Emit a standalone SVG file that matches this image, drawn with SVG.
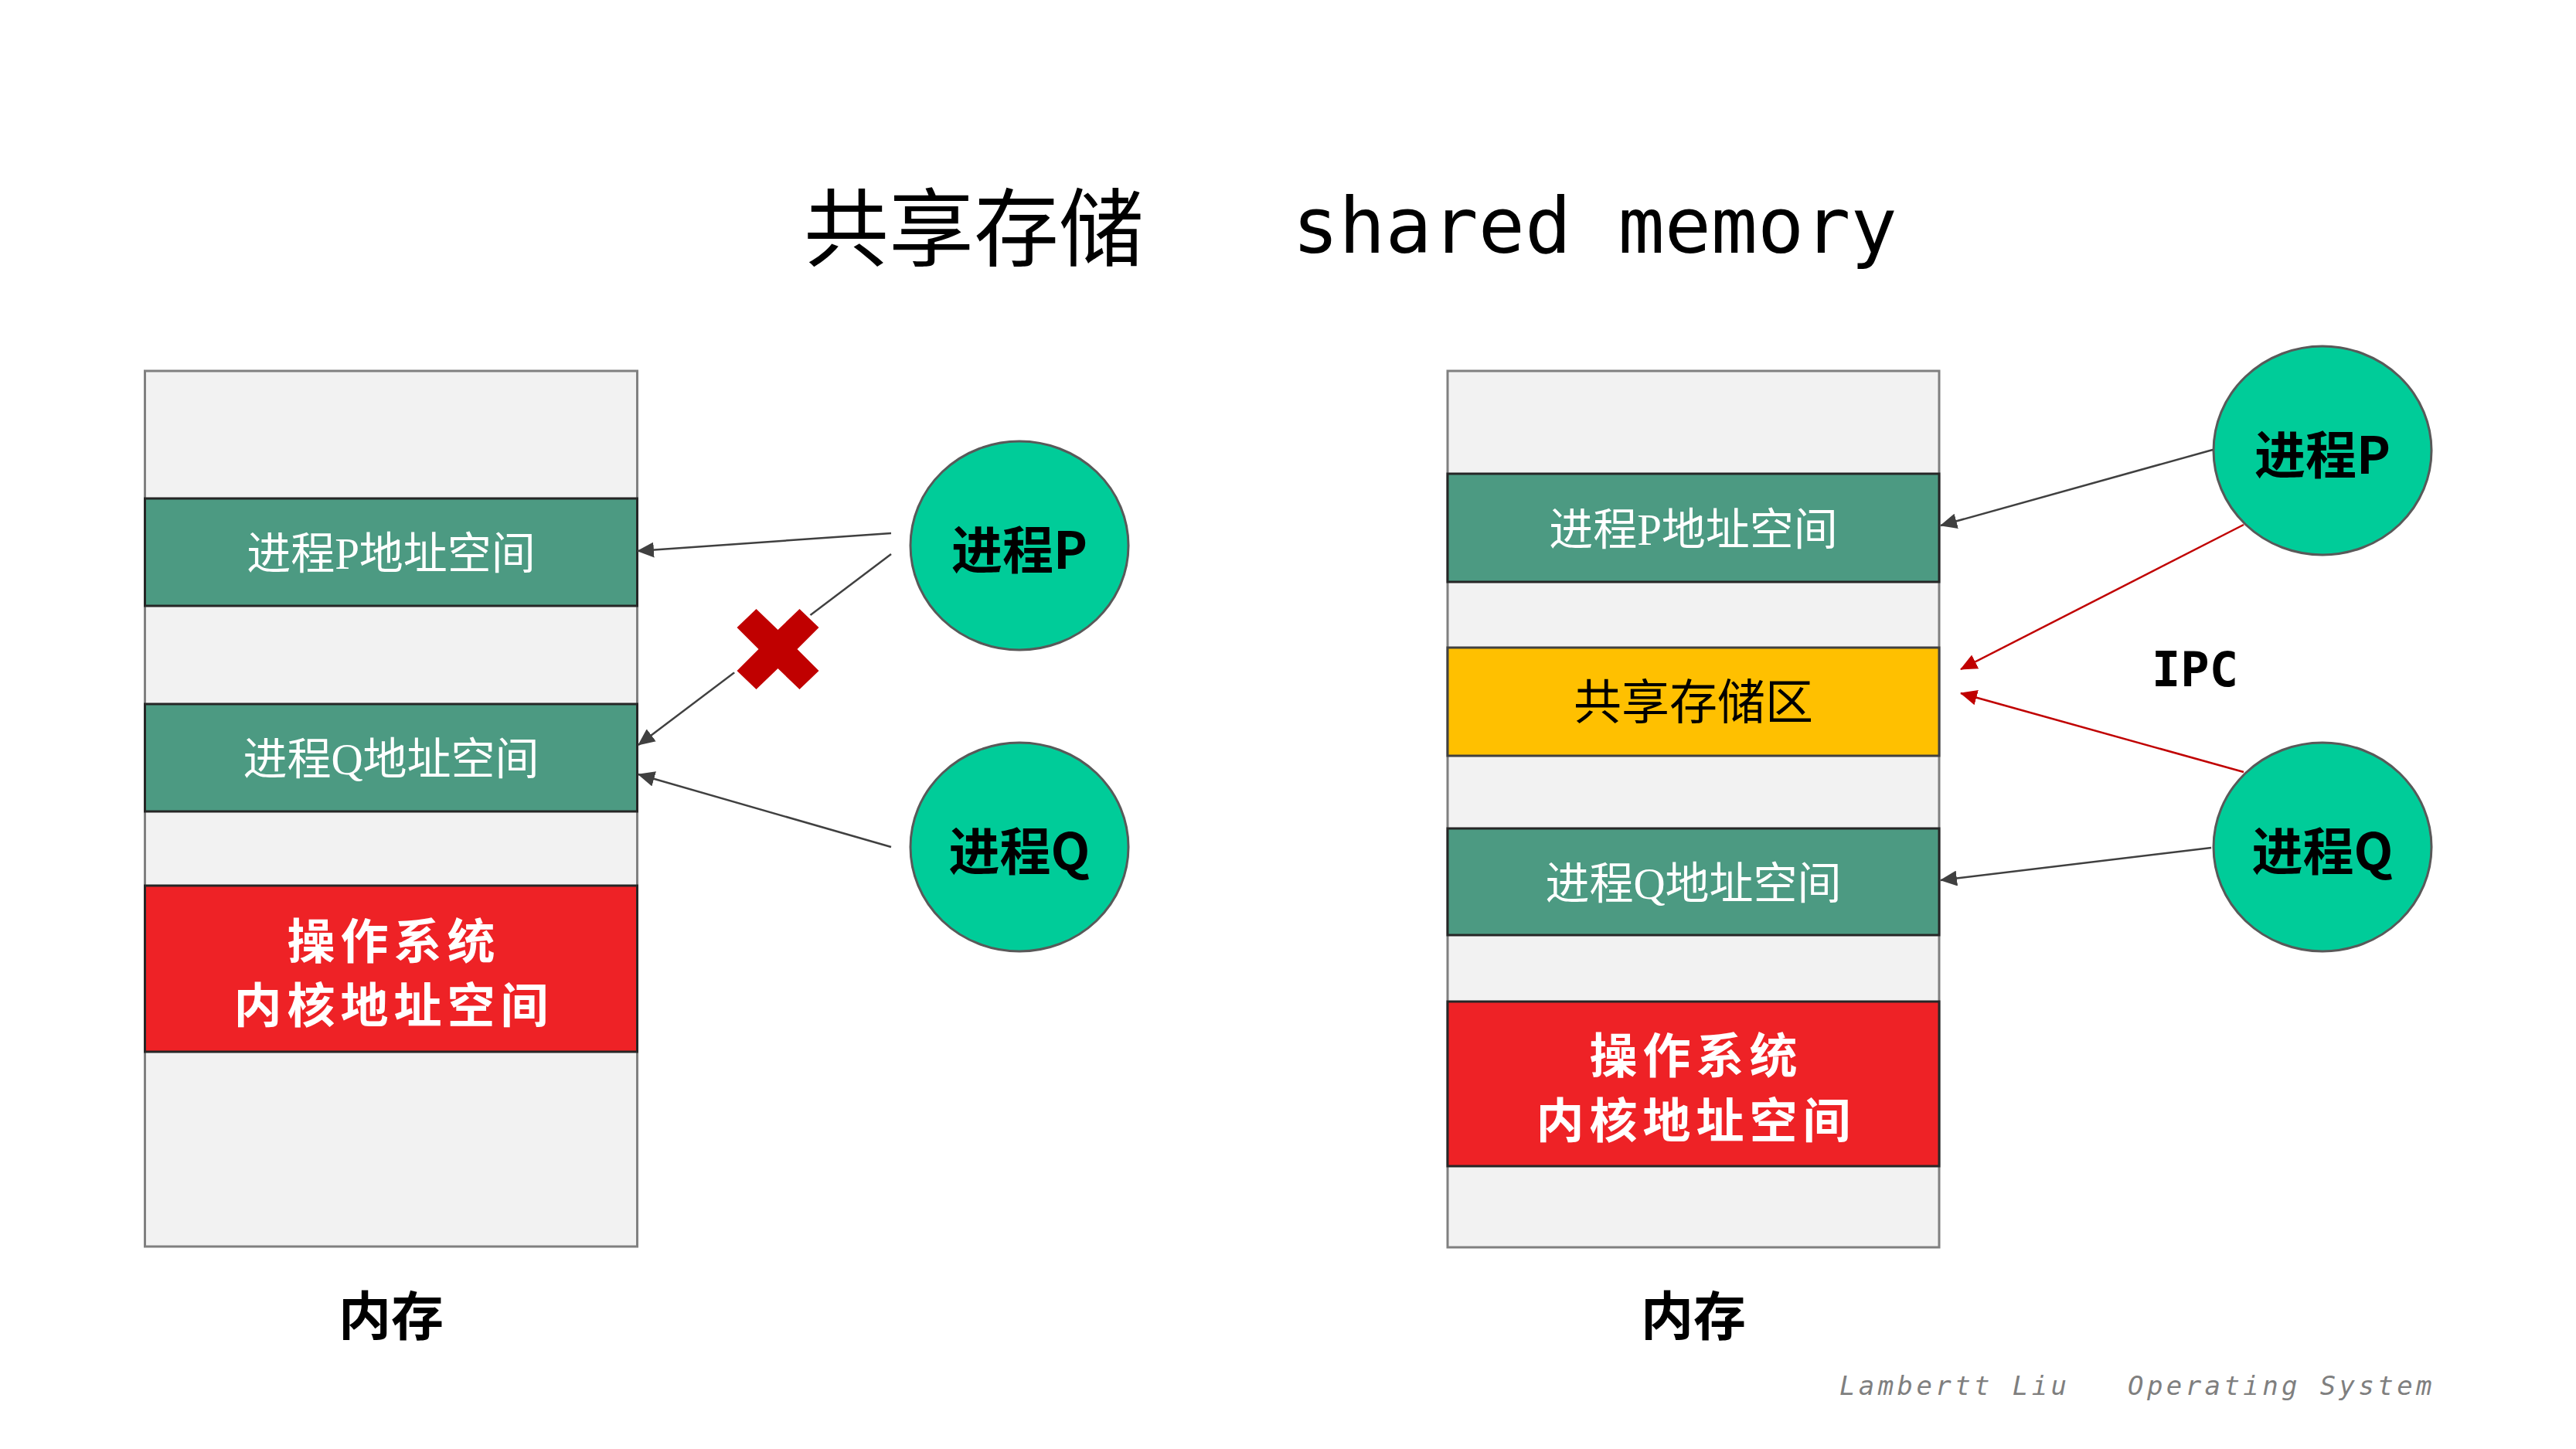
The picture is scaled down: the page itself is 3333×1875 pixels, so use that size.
<svg xmlns="http://www.w3.org/2000/svg" width="3333" height="1875" viewBox="0 0 3333 1875">
  <defs>
    <style>
      .mem { fill: #F2F2F2; stroke: #808080; stroke-width: 3; }
      .green { fill: #4C9A82; stroke: #262626; stroke-width: 3; }
      .yellow { fill: #FFC000; stroke: #404040; stroke-width: 3; }
      .kernel { fill: #EE2226; stroke: #262626; stroke-width: 3; }
      .proc { fill: #00CC99; stroke: #595959; stroke-width: 3; }
      .cjk { font-family: "Liberation Serif", "Noto Sans CJK SC", serif; }
      .lbl { font-size: 57px; fill: #FFFFFF; text-anchor: middle; dominant-baseline: central; }
      .klbl { font-family: "Noto Sans CJK SC", sans-serif; font-weight: bold; font-size: 62px; letter-spacing: 7px; fill: #FFFFFF; text-anchor: middle; dominant-baseline: central; }
      .plbl { font-family: "Noto Sans CJK SC", sans-serif; font-weight: bold; font-size: 66px; fill: #000000; text-anchor: middle; dominant-baseline: central; }
      .cap { font-family: "Noto Sans CJK SC", sans-serif; font-weight: bold; font-size: 68px; fill: #000000; text-anchor: middle; dominant-baseline: central; }
      .gray { stroke: #404040; stroke-width: 2.5; fill: none; }
      .red { stroke: #C00000; stroke-width: 2.5; fill: none; }
    </style>
    <marker id="arrowGray" viewBox="0 0 22 20" refX="21" refY="10" markerWidth="22" markerHeight="20" markerUnits="userSpaceOnUse" orient="auto">
      <path d="M0,0 L22,10 L0,20 z" fill="#404040"/>
    </marker>
    <marker id="arrowRed" viewBox="0 0 22 20" refX="21" refY="10" markerWidth="22" markerHeight="20" markerUnits="userSpaceOnUse" orient="auto">
      <path d="M0,0 L22,10 L0,20 z" fill="#C00000"/>
    </marker>
  </defs>

  <rect width="3333" height="1875" fill="#FFFFFF"/>

  <!-- title -->
  <g id="title">
    <text x="1040" y="336" font-family="Noto Sans CJK SC, sans-serif" font-size="110" fill="#000000">共享存储</text>
    <text x="1672" y="327" font-family="DejaVu Sans Mono, monospace" font-size="100" fill="#000000">shared memory</text>
  </g>

  <!-- left: separate address spaces -->
  <g id="mem-left">
    <rect class="mem" x="187.5" y="480" width="637" height="1133"/>
    <text class="cap" x="506" y="1698">内存</text>
  </g>
  <g id="left-p-space">
    <rect class="green" x="187.5" y="645" width="637" height="139"/>
    <text class="cjk lbl" x="506" y="716">进程P地址空间</text>
  </g>
  <g id="left-q-space">
    <rect class="green" x="187.5" y="911" width="637" height="139"/>
    <text class="cjk lbl" x="506" y="982">进程Q地址空间</text>
  </g>
  <g id="left-kernel">
    <rect class="kernel" x="187.5" y="1146" width="637" height="215"/>
    <text class="klbl" x="509.5" y="1214">操作系统</text>
    <text class="klbl" x="509.5" y="1297">内核地址空间</text>
  </g>
  <g id="left-proc-p">
    <ellipse class="proc" cx="1319" cy="706" rx="141" ry="135"/>
    <text class="plbl" x="1319" y="707">进程P</text>
  </g>
  <g id="left-proc-q">
    <ellipse class="proc" cx="1319" cy="1096" rx="141" ry="135"/>
    <text class="plbl" x="1319" y="1097">进程Q</text>
  </g>

  <!-- right: shared region -->
  <g id="mem-right">
    <rect class="mem" x="1873" y="480" width="636" height="1134"/>
    <text class="cap" x="2191" y="1698">内存</text>
  </g>
  <g id="right-p-space">
    <rect class="green" x="1873" y="613" width="636" height="140"/>
    <text class="cjk lbl" x="2191" y="685">进程P地址空间</text>
  </g>
  <g id="shared-region">
    <rect class="yellow" x="1873" y="838" width="636" height="140"/>
    <text class="cjk lbl" x="2191" y="910" style="fill:#000000;font-size:62px">共享存储区</text>
  </g>
  <g id="right-q-space">
    <rect class="green" x="1873" y="1072" width="636" height="138"/>
    <text class="cjk lbl" x="2191" y="1143">进程Q地址空间</text>
  </g>
  <g id="right-kernel">
    <rect class="kernel" x="1873" y="1296" width="636" height="213"/>
    <text class="klbl" x="2194.5" y="1362">操作系统</text>
    <text class="klbl" x="2194.5" y="1446">内核地址空间</text>
  </g>
  <g id="right-proc-p">
    <ellipse class="proc" cx="3005" cy="583" rx="141" ry="135"/>
    <text class="plbl" x="3005" y="584">进程P</text>
  </g>
  <g id="right-proc-q">
    <ellipse class="proc" cx="3005" cy="1096" rx="141" ry="135"/>
    <text class="plbl" x="3005" y="1097">进程Q</text>
  </g>
  <g id="ipc-label">
    <text x="2840" y="888" font-family="DejaVu Sans Mono, monospace" font-weight="bold" font-size="62" text-anchor="middle" fill="#000000">IPC</text>
  </g>

  <!-- connectors -->
  <g id="connectors">
    <line class="gray" x1="1153" y1="690" x2="825" y2="713" marker-end="url(#arrowGray)"/>
    <line class="gray" x1="1153" y1="717" x2="826" y2="964" marker-end="url(#arrowGray)"/>
    <line class="gray" x1="1153" y1="1096" x2="826" y2="1002" marker-end="url(#arrowGray)"/>
    <line class="gray" x1="2863" y1="582" x2="2511" y2="680" marker-end="url(#arrowGray)"/>
    <line class="red" x1="2903" y1="679" x2="2537" y2="866" marker-end="url(#arrowRed)"/>
    <line class="red" x1="2903" y1="999" x2="2537" y2="897" marker-end="url(#arrowRed)"/>
    <line class="gray" x1="2861" y1="1097" x2="2511" y2="1139" marker-end="url(#arrowGray)"/>
  </g>

  <!-- blocked access mark -->
  <g id="blocked-mark" transform="translate(1006.5,840)">
    <polygon points="-28,-52 0,-25 28,-52 53,-28 25,0 53,28 28,52 0,25 -28,52 -53,28 -25,0 -53,-28" fill="#C00000" stroke="#FFFFFF" stroke-width="8" stroke-linejoin="miter" paint-order="stroke"/>
  </g>

  <!-- footer -->
  <g id="footer">
    <text x="2380" y="1805" xml:space="preserve" font-family="DejaVu Sans Mono, monospace" font-style="italic" font-size="34" letter-spacing="4.4" fill="#7F7F7F">Lambertt Liu   Operating System</text>
  </g>
</svg>
